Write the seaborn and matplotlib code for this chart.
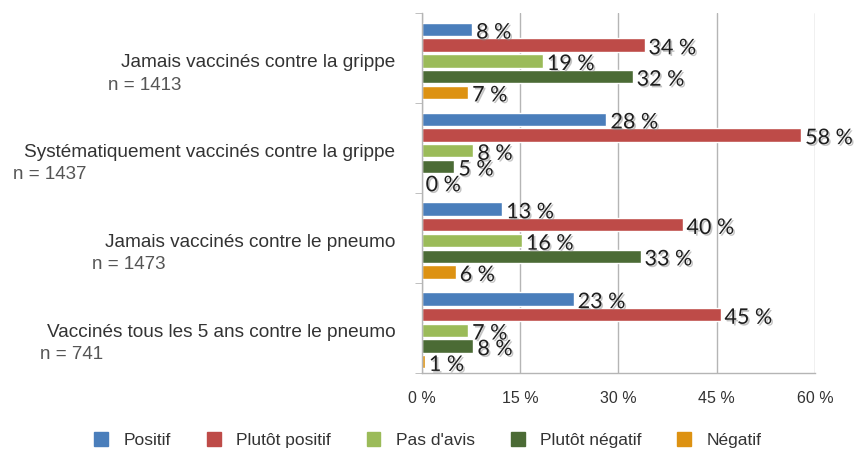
import numpy as np
import pandas as pd
import seaborn as sns
import matplotlib.pyplot as plt
import matplotlib.patheffects as pe
from matplotlib.transforms import blended_transform_factory
from matplotlib.ticker import FixedLocator, FuncFormatter

# --- data ---
categories = ["Jamais vaccinés contre la grippe",
              "Systématiquement vaccinés contre la grippe",
              "Jamais vaccinés contre le pneumo",
              "Vaccinés tous les 5 ans contre le pneumo"]
n_counts = ["n = 1413", "n = 1437", "n = 1473", "n = 741"]
series = ["Positif", "Plutôt positif", "Pas d'avis", "Plutôt négatif", "Négatif"]

# bar lengths (%)
positif = [7.7, 28.2, 12.3, 23.2]
plutot_positif = [34.0, 57.9, 39.8, 45.6]
pas_avis = [18.5, 7.9, 15.3, 7.1]
plutot_negatif = [32.2, 5.0, 33.4, 7.9]
negatif = [7.1, 0.0, 5.2, 0.5]

# printed labels (%)
positif_lbl = [8, 28, 13, 23]
plutot_positif_lbl = [34, 58, 40, 45]
pas_avis_lbl = [19, 8, 16, 7]
plutot_negatif_lbl = [32, 5, 33, 8]
negatif_lbl = [7, 0, 6, 1]

colors = ["#4a7ebb", "#be4b48", "#9bbb59", "#4b6b35", "#dd9212"]

values = [positif, plutot_positif, pas_avis, plutot_negatif, negatif]
labels = [positif_lbl, plutot_positif_lbl, pas_avis_lbl, plutot_negatif_lbl, negatif_lbl]

rows = []
for s, vals in zip(series, values):
    for c, v in zip(categories, vals):
        rows.append({"categorie": c, "reponse": s, "pct": v})
df = pd.DataFrame(rows)

sns.set_style("white")
plt.rcParams['font.family'] = ['Liberation Sans', 'DejaVu Sans']

fig = plt.figure(figsize=(8.56, 4.53), dpi=100)
ax = fig.add_axes([0.4926, 0.1773, 0.952 - 0.4926, 0.9706 - 0.1773])

sns.barplot(data=df, y="categorie", x="pct", hue="reponse", order=categories,
            hue_order=series, palette=colors, orient="h", width=0.874, gap=0.15,
            ax=ax, legend=False, saturation=1)

shift = 0.029
ax.set_ylim(3.5 - shift, -0.5 - shift)
ax.set_xlim(0, 60)

# value labels
shadow = [pe.withSimplePatchShadow(offset=(1.2, -1.2), shadow_rgbFace="#888888", alpha=0.5)]
for cont, lbls in zip(ax.containers, labels):
    for bar, lb in zip(cont, lbls):
        yc = bar.get_y() + bar.get_height() / 2
        ax.text(bar.get_width() + 0.6, yc + 0.035, f"{lb} %", va="center", ha="left",
                fontsize=15.5, color="#1e1e1e", family=["Lato", "DejaVu Sans"],
                path_effects=shadow)

# axes styling
ax.xaxis.set_major_locator(FixedLocator([0, 15, 30, 45, 60]))
ax.xaxis.set_major_formatter(FuncFormatter(lambda v, p: f"{int(v)} %"))
ax.grid(axis="x", color="#b5b5b5", linewidth=1)
ax.grid(axis="y", visible=False)
ax.set_axisbelow(True)
for side in ["top", "right"]:
    ax.spines[side].set_visible(False)
for side in ["left", "bottom"]:
    ax.spines[side].set_color("#b5b5b5")
    ax.spines[side].set_linewidth(1)
ax.tick_params(axis="x", length=4, color="#b5b5b5", pad=9, labelsize=11.5, labelcolor="#333333")
ax.tick_params(axis="y", length=0, pad=19, labelsize=13.7, labelcolor="#333333")
ax.yaxis.set_minor_locator(FixedLocator([k - 0.5 - shift for k in range(5)]))
ax.tick_params(axis="y", which="minor", length=5, color="#b5b5b5", left=True)
ax.set_xlabel("")
ax.set_ylabel("")

# sample sizes under the category names
n_x = [108, 13, 92, 40]
trans = blended_transform_factory(fig.transFigure, ax.transData)
for i, (nt, xp) in enumerate(zip(n_counts, n_x)):
    ax.text(xp / 856, i + 0.27, nt, transform=trans,
            ha="left", va="center", fontsize=13.5, color="#555555")

# legend
handles = [plt.Rectangle((0, 0), 1, 1, color=c) for c in colors]
fig.legend(handles, series, loc="center", bbox_to_anchor=(0.5, 0.028), ncol=5,
           frameon=False, fontsize=12.5, handlelength=0.8, handleheight=0.8,
           columnspacing=2.05, handletextpad=0.9, labelcolor="#333333")

fig.savefig("out.png", dpi=100)
